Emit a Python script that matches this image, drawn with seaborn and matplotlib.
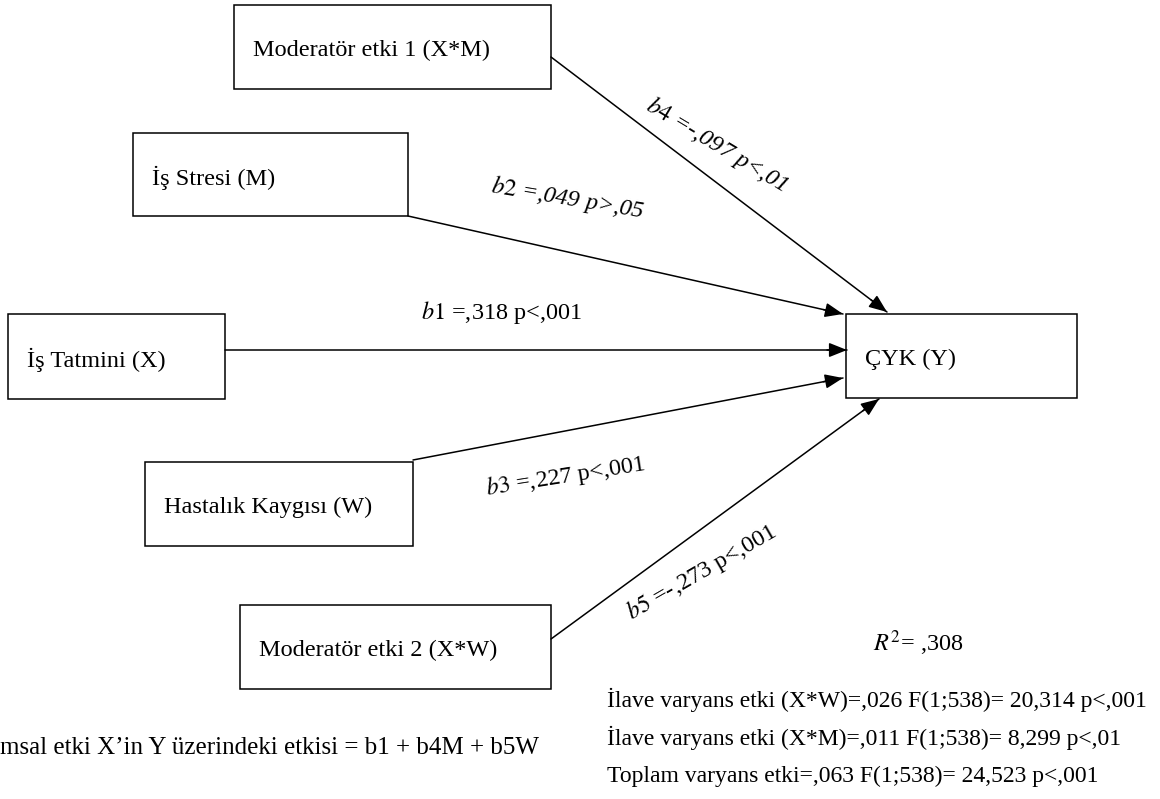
import matplotlib
matplotlib.use("Agg")
import numpy as np
import pandas as pd
import matplotlib.pyplot as plt
import seaborn as sns
from matplotlib.patches import Rectangle

# node boxes (pixel layout of the diagram): left, top, right, bottom
node_labels = ["Moderatör etki 1 (X*M)", "İş Stresi (M)", "İş Tatmini (X)",
               "Hastalık Kaygısı (W)", "Moderatör etki 2 (X*W)", "ÇYK (Y)"]
node_left = [234, 133, 8, 145, 240, 846]
node_top = [5, 133, 314, 462, 605, 314]
node_right = [551, 408, 225, 413, 551, 1077]
node_bottom = [89, 216, 399, 546, 689, 398]

# paths into Y
path_names = ["b4", "b2", "b1", "b3", "b5"]
path_x0 = [551, 408, 225, 413, 551]
path_y0 = [57, 216, 350, 460, 639]
path_x1 = [887, 843, 847, 843, 879]
path_y1 = [312, 314, 350, 378, 399]

coef_text = [r"$b4$ =-,097 p<,01", r"$b2$ =,049 p>,05", r"$b1$ =,318 p<,001",
             r"$b3$ =,227 p<,001", r"$b5$ =-,273 p<,001"]
coef_x = [648, 491, 421, 486, 628]
coef_y = [103, 186, 312, 489, 614]
coef_rot = [-31, -9.5, 0, 9, 30]
coef_style = ["italic", "italic", "normal", "normal", "normal"]

stat_lines = ["İlave varyans etki (X*W)=,026 F(1;538)= 20,314 p<,001",
              "İlave varyans etki (X*M)=,011 F(1;538)= 8,299 p<,01",
              "Toplam varyans etki=,063 F(1;538)= 24,523 p<,001"]
stat_y = [700, 738, 776]
r2_text = r"$R^2$= ,308"
formula_text = "msal etki X’in Y üzerindeki etkisi = b1 + b4M + b5W"

sns.set_theme(style="white")
plt.rcParams["font.family"] = ["Liberation Serif", "DejaVu Serif"]
plt.rcParams["mathtext.fontset"] = "stix"

fig = plt.figure(figsize=(11.6, 7.99), dpi=100)
ax = fig.add_axes([0, 0, 1, 1])
ax.set_xlim(0, 1160)
ax.set_ylim(799, 0)
ax.axis("off")

fs = 17.5

for i, lab in enumerate(node_labels):
    w = node_right[i] - node_left[i]
    h = node_bottom[i] - node_top[i]
    ax.add_patch(Rectangle((node_left[i], node_top[i]), w, h, fill=False,
                           edgecolor="black", lw=1.1))
    ax.text(node_left[i] + 19, node_top[i] + h / 2 + 3, lab, fontsize=fs,
            ha="left", va="center", color="black")

edges = pd.DataFrame({
    "x": path_x0 + path_x1,
    "y": path_y0 + path_y1,
    "edge": path_names + path_names,
})
sns.lineplot(data=edges, x="x", y="y", units="edge", estimator=None,
             color="black", lw=1.1, ax=ax, legend=False, sort=False)

for i in range(len(path_names)):
    dx = path_x1[i] - path_x0[i]
    dy = path_y1[i] - path_y0[i]
    n = np.hypot(dx, dy)
    ax.annotate("", xy=(path_x1[i], path_y1[i]),
                xytext=(path_x1[i] - dx / n * 20, path_y1[i] - dy / n * 20),
                arrowprops=dict(arrowstyle="-|>,head_length=0.55,head_width=0.22",
                                mutation_scale=20, color="black", lw=1.1,
                                shrinkA=0, shrinkB=0))
    ax.text(coef_x[i], coef_y[i], coef_text[i], fontsize=fs, rotation=coef_rot[i],
            rotation_mode="anchor", ha="left", va="center",
            style=coef_style[i], color="black")

ax.text(873, 643, r2_text, fontsize=fs, ha="left", va="center", color="black")
for t, y in zip(stat_lines, stat_y):
    ax.text(607, y, t, fontsize=17, ha="left", va="center", color="black")
ax.text(0, 748, formula_text, fontsize=18, ha="left", va="center", color="black")

fig.savefig("out.png", dpi=100, facecolor="white")
